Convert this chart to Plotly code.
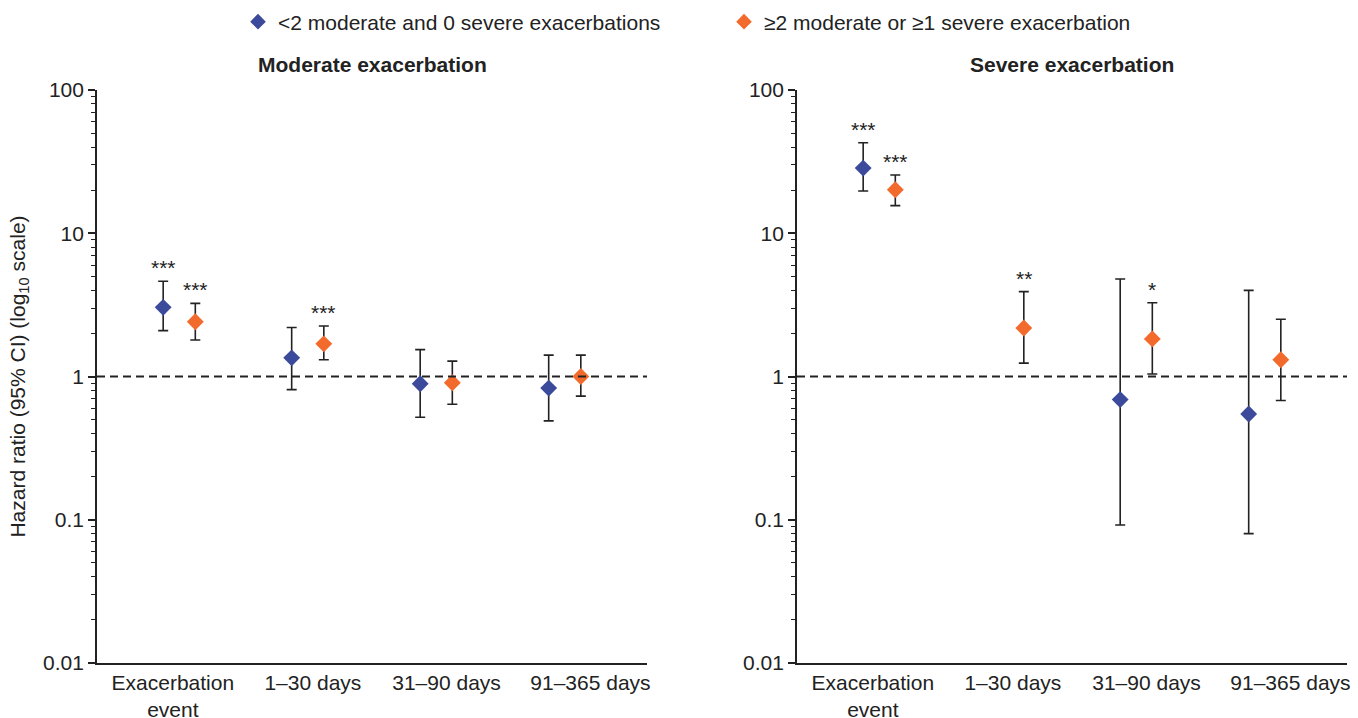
import math
import plotly.graph_objects as go
from plotly.subplots import make_subplots

categories = ["Exacerbation<br>event", "1–30 days", "31–90 days", "91–365 days"]
series_names = ["<2 moderate and 0 severe exacerbations", "≥2 moderate or ≥1 severe exacerbation"]

# Moderate exacerbation panel
mod_low_hr = [3.04, 1.35, 0.89, 0.83]
mod_low_lo = [2.09, 0.81, 0.52, 0.49]
mod_low_hi = [4.62, 2.20, 1.54, 1.41]
mod_high_hr = [2.41, 1.69, 0.905, 1.00]
mod_high_lo = [1.80, 1.31, 0.64, 0.73]
mod_high_hi = [3.24, 2.25, 1.28, 1.41]
mod_low_sig = ["***", "", "", ""]
mod_high_sig = ["***", "***", "", ""]

# Severe exacerbation panel
sev_low_hr = [28.5, None, 0.69, 0.547]
sev_low_lo = [19.7, None, 0.092, 0.080]
sev_low_hi = [42.8, None, 4.79, 3.99]
sev_high_hr = [20.1, 2.18, 1.83, 1.31]
sev_high_lo = [15.6, 1.24, 1.04, 0.68]
sev_high_hi = [25.5, 3.91, 3.27, 2.51]
sev_low_sig = ["***", "", "", ""]
sev_high_sig = ["***", "**", "*", ""]

panel_titles = ["Moderate exacerbation", "Severe exacerbation"]

colors = ["#3B4A9B", "#F26A2C"]
INK = "#222222"
FONT = "Liberation Sans, Arial, sans-serif"
FS = 21
OFFSET = 0.125
# category label placement (labels in the original are spread slightly wider than the points)
LABEL_SHIFT = [-0.05, 0.04, 0.08, 0.2]

fig = make_subplots(rows=1, cols=2, horizontal_spacing=0.12)

panels = [
    (1, [(mod_low_hr, mod_low_lo, mod_low_hi, mod_low_sig), (mod_high_hr, mod_high_lo, mod_high_hi, mod_high_sig)]),
    (2, [(sev_low_hr, sev_low_lo, sev_low_hi, sev_low_sig), (sev_high_hr, sev_high_lo, sev_high_hi, sev_high_sig)]),
]

annotations = []
for col, series in panels:
    for si, (hr, lo, hi, sig) in enumerate(series):
        off = -OFFSET if si == 0 else OFFSET
        xs = [i + off for i in range(len(hr))]
        plus = [(h - v) if (h is not None and v is not None) else None for h, v in zip(hi, hr)]
        minus = [(v - l) if (l is not None and v is not None) else None for l, v in zip(lo, hr)]
        fig.add_trace(go.Scatter(
            x=xs, y=hr, mode="markers",
            name=series_names[si], showlegend=(col == 1),
            marker=dict(symbol="diamond", size=13, color=colors[si]),
            error_y=dict(type="data", symmetric=False, array=plus, arrayminus=minus,
                         color=INK, thickness=1.6, width=5),
        ), row=1, col=col)
        xref = "x" if col == 1 else "x2"
        yref = "y" if col == 1 else "y2"
        for x, h, s in zip(xs, hi, sig):
            if s and h is not None:
                annotations.append(dict(x=x, y=math.log10(h), xref=xref, yref=yref,
                                        text=s, showarrow=False, xanchor="center",
                                        yanchor="bottom", yshift=0,
                                        font=dict(family=FONT, size=FS, color=INK)))

minor_vals = [m * 10 ** e for e in range(-2, 2) for m in range(2, 10)]
for col in (1, 2):
    fig.update_yaxes(type="log", range=[-2, 2], tickvals=[0.01, 0.1, 1, 10, 100],
                     ticktext=["0.01", "0.1", "1", "10", "100"],
                     ticks="outside", ticklen=7, tickwidth=1.5, tickcolor=INK,
                     minor=dict(tickvals=minor_vals, ticks="outside", ticklen=4, tickwidth=1.3,
                                tickcolor=INK, showgrid=False),
                     showline=True, linecolor=INK, linewidth=1.7,
                     showgrid=False, zeroline=False, automargin=False,
                     tickfont=dict(family=FONT, size=FS, color=INK),
                     row=1, col=col)
    fig.update_xaxes(range=[-0.64, 3.64],
                     tickvals=[i + s for i, s in enumerate(LABEL_SHIFT)], ticktext=categories,
                     ticks="", showline=True, linecolor=INK, linewidth=1.7,
                     showgrid=False, zeroline=False, automargin=False,
                     tickfont=dict(family=FONT, size=FS, color=INK),
                     row=1, col=col)
    fig.add_hline(y=1, line=dict(color=INK, width=2, dash="8px,5px"), row=1, col=col)

fig.update_yaxes(title=dict(text="Hazard ratio (95% CI) (log<sub>10</sub> scale)",
                            font=dict(family=FONT, size=FS, color=INK), standoff=12),
                 row=1, col=1)

for i, t in enumerate(panel_titles):
    annotations.append(dict(x=0.5, y=1.044, xref=("x domain" if i == 0 else "x2 domain"), yref="paper",
                            text="<b>" + t + "</b>", showarrow=False,
                            xanchor="center", yanchor="middle",
                            font=dict(family=FONT, size=FS, color=INK)))

fig.update_layout(
    width=1358, height=718,
    margin=dict(l=97, r=11, t=90, b=55, autoexpand=False),
    plot_bgcolor="white", paper_bgcolor="white",
    font=dict(family=FONT, size=FS, color=INK),
    annotations=annotations,
    legend=dict(orientation="h", xref="container", yref="container",
                x=238 / 1358, xanchor="left", y=1 - 22 / 718, yanchor="middle",
                entrywidth=441, entrywidthmode="pixels", itemsizing="constant",
                font=dict(family=FONT, size=FS, color=INK)),
)

fig.write_html("out.html")
